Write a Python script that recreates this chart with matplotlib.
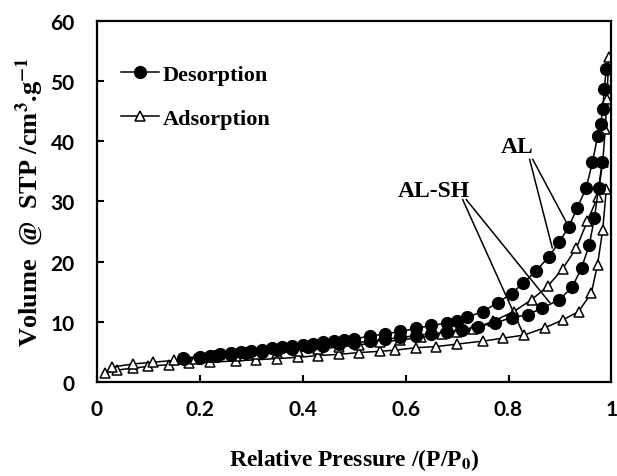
import matplotlib
matplotlib.use('Agg')
import matplotlib.pyplot as plt
from matplotlib.lines import Line2D

plt.rcParams['mathtext.fontset'] = 'stix'

# AL desorption (upper filled circles)
al_des_x = [0.167, 0.20, 0.22, 0.24, 0.26, 0.28, 0.30, 0.32, 0.34, 0.36, 0.38, 0.40,
            0.42, 0.44, 0.46, 0.48, 0.50, 0.53, 0.56, 0.59, 0.62, 0.65, 0.68, 0.70,
            0.72, 0.75, 0.779, 0.806, 0.829, 0.854, 0.878, 0.899, 0.917, 0.934,
            0.951, 0.963, 0.973, 0.979, 0.983, 0.986, 0.99]
al_des_y = [4.0, 4.2, 4.4, 4.6, 4.8, 5.0, 5.2, 5.4, 5.6, 5.8, 6.0, 6.2,
            6.4, 6.6, 6.8, 7.0, 7.2, 7.6, 8.0, 8.4, 8.9, 9.4, 9.8, 10.2,
            10.8, 11.7, 13.2, 14.7, 16.5, 18.5, 20.8, 23.3, 25.8, 29.0,
            32.3, 36.5, 40.8, 42.8, 45.3, 48.7, 52.0]

# AL adsorption (upper open triangles)
al_ads_x = [0.03, 0.07, 0.11, 0.15, 0.19, 0.23, 0.27, 0.31, 0.35, 0.39, 0.43, 0.47,
            0.51, 0.55, 0.59, 0.63, 0.67, 0.70, 0.73, 0.77, 0.81, 0.845, 0.876,
            0.905, 0.932, 0.953, 0.973, 0.983, 0.988, 0.991, 0.995]
al_ads_y = [2.5, 3.0, 3.3, 3.6, 3.9, 4.1, 4.3, 4.6, 4.9, 5.2, 5.5, 5.8,
            6.2, 6.6, 7.0, 7.4, 7.9, 8.3, 8.8, 10.1, 11.7, 13.7, 15.9,
            18.8, 22.3, 26.7, 30.7, 36.5, 42.0, 47.0, 54.0]

# AL-SH desorption (lower filled circles)
sh_des_x = [0.17, 0.20, 0.23, 0.26, 0.29, 0.32, 0.35, 0.38, 0.41, 0.44, 0.47, 0.50,
            0.53, 0.56, 0.59, 0.62, 0.65, 0.68, 0.709, 0.74, 0.773, 0.806, 0.837,
            0.866, 0.899, 0.924, 0.942, 0.957, 0.967, 0.975, 0.982]
sh_des_y = [3.8, 4.0, 4.3, 4.5, 4.8, 5.0, 5.3, 5.5, 5.8, 6.0, 6.3, 6.5,
            6.8, 7.1, 7.4, 7.7, 8.0, 8.3, 8.7, 9.2, 9.8, 10.7, 11.2,
            12.3, 13.7, 15.8, 19.0, 22.8, 27.3, 32.3, 36.5]

# AL-SH adsorption (lower open triangles)
sh_ads_x = [0.015, 0.04, 0.07, 0.10, 0.14, 0.18, 0.22, 0.27, 0.31, 0.35, 0.39, 0.43,
            0.47, 0.51, 0.55, 0.58, 0.62, 0.66, 0.70, 0.75, 0.79, 0.83, 0.87,
            0.905, 0.936, 0.961, 0.973, 0.983, 0.99]
sh_ads_y = [1.5, 2.0, 2.3, 2.6, 2.9, 3.1, 3.3, 3.5, 3.7, 3.9, 4.1, 4.4,
            4.6, 4.9, 5.1, 5.3, 5.7, 5.9, 6.3, 6.8, 7.3, 7.8, 9.0,
            10.3, 11.7, 14.8, 19.5, 25.3, 32.0]

x_ticks = [0, 0.2, 0.4, 0.6, 0.8, 1]
x_ticklabels = ['0', '0.2', '0.4', '0.6', '0.8', '1']
y_ticks = [0, 10, 20, 30, 40, 50, 60]

serif = 'Liberation Serif'
sans = 'Lato'

fig = plt.figure(figsize=(6.17, 4.77), dpi=100)
ax = fig.add_axes([0.157, 0.197, 0.834, 0.757])

tri = dict(marker='^', ms=7, mfc='white', mec='black', mew=1.1,
           color='black', lw=1.1)
dot = dict(marker='o', ms=8.5, mfc='black', mec='black', color='black', lw=1.1)

ax.plot(sh_ads_x, sh_ads_y, **tri)
ax.plot(al_ads_x, al_ads_y, **tri)
ax.plot(sh_des_x, sh_des_y, **dot)
ax.plot(al_des_x, al_des_y, **dot)

ax.set_xlim(0, 1)
ax.set_ylim(0, 60)
ax.set_xticks(x_ticks)
ax.set_xticklabels(x_ticklabels)
ax.set_yticks(y_ticks)
ax.tick_params(direction='in', length=5, width=1.5)
ax.tick_params(axis='y', pad=16)
ax.tick_params(axis='x', pad=12)
for lab in ax.get_xticklabels() + ax.get_yticklabels():
    lab.set_fontfamily(sans)
    lab.set_fontweight('bold')
    lab.set_fontsize(15)
for sp in ax.spines.values():
    sp.set_linewidth(1.6)

ax.set_xlabel(r'Relative Pressure /(P/P$_{\mathbf{0}}$)', family=serif,
              fontweight='bold', fontsize=17, labelpad=20)
ax.set_ylabel(r'Volume  @  STP /cm$^{\mathbf{3}}$.g$^{\mathbf{-1}}$', family=serif,
              fontweight='bold', fontsize=19, labelpad=3)

# legend
handles = [Line2D([], [], **dot), Line2D([], [], **tri)]
ax.legend(handles, ['Desorption', 'Adsorption'], loc='upper left',
          bbox_to_anchor=(0.03, 0.905), frameon=False, handlelength=1.7,
          handletextpad=0.15, labelspacing=1.05, borderaxespad=0,
          prop=dict(family=serif, weight='bold', size=16))

# annotations
ax.text(0.817, 39.2, 'AL', family=serif, fontweight='bold', fontsize=17,
        ha='center', va='center')
ax.plot([0.841, 0.885], [37.0, 22.3], color='black', lw=1.1)
ax.plot([0.847, 0.917], [37.0, 25.8], color='black', lw=1.1)
ax.text(0.654, 31.8, 'AL-SH', family=serif, fontweight='bold', fontsize=17,
        ha='center', va='center')
ax.plot([0.711, 0.827], [30.3, 8.3], color='black', lw=1.1)
ax.plot([0.718, 0.880], [30.3, 13.2], color='black', lw=1.1)

fig.savefig('out.png', dpi=100)
